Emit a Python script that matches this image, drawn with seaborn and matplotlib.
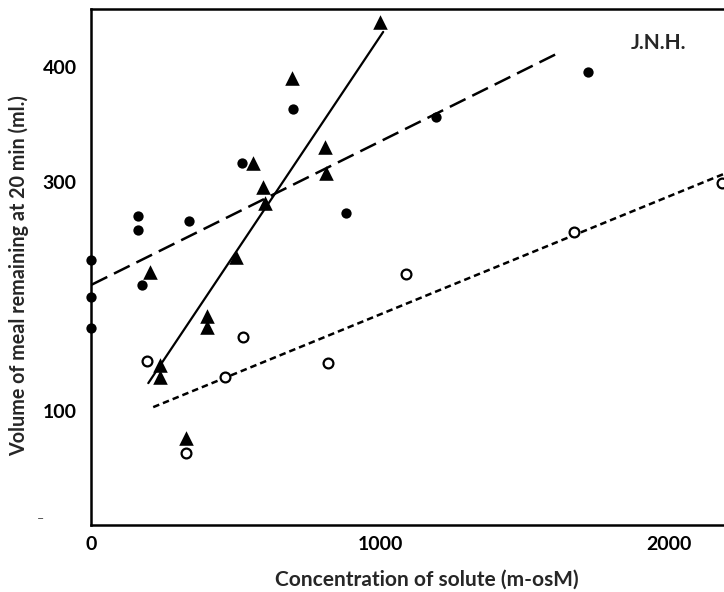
import matplotlib
matplotlib.use("Agg")
import matplotlib.pyplot as plt
import seaborn as sns
import pandas as pd

# Filled circles
circ_x = [0, 0, 0, 164, 164, 178, 339, 524, 698, 882, 1193, 1718]
circ_y = [232, 199, 172, 270, 258, 210, 266, 316, 364, 273, 357, 396]
# Filled triangles
tri_x = [205, 502, 401, 401, 240, 240, 329, 1000, 695, 562, 810, 814, 597, 602]
tri_y = [221, 234, 183, 173, 140, 129, 76, 440, 391, 316, 330, 308, 295, 281]
# Open circles
open_x = [193, 464, 331, 528, 819, 1089, 1672, 2181]
open_y = [143, 129, 63, 164, 142, 219, 256, 299]
# Fitted lines (endpoints)
solid_x = [199, 1011]
solid_y = [124, 431]
long_x = [3, 1628]
long_y = [210, 414]
short_x = [216, 2190]
short_y = [103, 307]

xticks = [0, 1000, 2000]
yticks = [100, 300, 400]

sns.set_theme(style="white")
plt.rcParams['font.family'] = ['Lato', 'DejaVu Sans']

fig = plt.figure(figsize=(7.24, 5.92), dpi=100)
ax = fig.add_axes([0.1253, 0.1132, 0.8747, 0.8716])

ln = pd.DataFrame({"x": long_x, "y": long_y})
sns.lineplot(data=ln, x="x", y="y", ax=ax, color="black", lw=1.8,
             linestyle=(0, (7, 3)))
sh = pd.DataFrame({"x": short_x, "y": short_y})
sns.lineplot(data=sh, x="x", y="y", ax=ax, color="black", lw=1.8,
             linestyle=(0, (2.6, 1.6)))
so = pd.DataFrame({"x": solid_x, "y": solid_y})
sns.lineplot(data=so, x="x", y="y", ax=ax, color="black", lw=1.6)

sns.scatterplot(x=circ_x, y=circ_y, ax=ax, marker="o", s=55,
                color="black", edgecolor="black", linewidth=0, zorder=5,
                clip_on=False)
sns.scatterplot(x=tri_x, y=tri_y, ax=ax, marker="^", s=110,
                color="black", edgecolor="black", linewidth=0, zorder=5,
                clip_on=False)
sns.scatterplot(x=open_x, y=open_y, ax=ax, marker="o", s=50,
                facecolor="white", edgecolor="black", linewidth=1.6,
                zorder=5, clip_on=False)

ax.set_xlim(0, 2189)
ax.set_ylim(0, 451)
ax.set_xticks(xticks)
ax.set_yticks(yticks)
ax.set_xticklabels([str(v) for v in xticks], fontsize=14, fontweight="bold")
ax.set_yticklabels([str(v) for v in yticks], fontsize=14, fontweight="bold")
ax.tick_params(axis="both", direction="in", length=6, width=1.6,
               colors="black", pad=8)
ax.tick_params(axis="y", pad=10)

for s in ["left", "bottom", "top"]:
    ax.spines[s].set_linewidth(1.8)
    ax.spines[s].set_color("black")
ax.spines["right"].set_visible(False)

ax.set_xlabel("Concentration of solute (m-osM)", fontsize=15,
              fontweight="bold")
ax.xaxis.set_label_coords(0.531, -0.087)
ax.set_ylabel("Volume of meal remaining at 20 min (ml.)", fontsize=14.2,
              fontweight="bold")
ax.yaxis.set_label_coords(-0.0974, 0.4826)
ax.text(0.853, 0.934, "J.N.H.", transform=ax.transAxes, fontsize=15,
        fontweight="bold", va="center")
fig.text(40 / 724, 1 - 519 / 592, "\u2013", fontsize=9, color="#555555",
         ha="center", va="center")

fig.savefig("out.png", dpi=100)
